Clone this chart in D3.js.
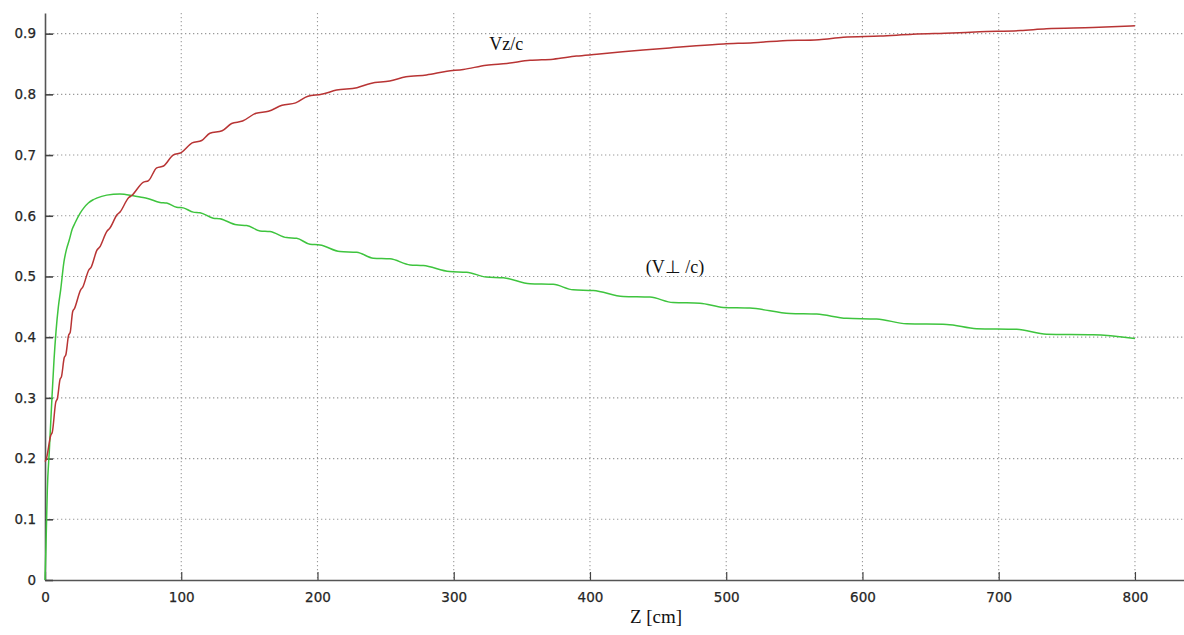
<!DOCTYPE html>
<html>
<head>
<meta charset="utf-8">
<script src="https://cdn.jsdelivr.net/npm/d3@7"></script>
<style>
  html, body { margin: 0; padding: 0; background: #fff; }
  svg { display: block; }
  .tick text { font-family: "DejaVu Sans", sans-serif; font-size: 13.5px; fill: #262626; stroke: #262626; stroke-width: 0.25px; }
  .lbl { font-family: "Liberation Serif", "Times New Roman", serif; fill: #111; }
</style>
</head>
<body>
<svg id="chart" width="1184" height="635"></svg>
<script>
// Longitudinal velocity Vz/c along the drift coordinate Z (cm)
const vzPoints = [
  [0,0.195],[0.8,0.198],
  [4.2,0.238],[5.4,0.244],
  [7.9,0.293],[9.1,0.299],
  [11,0.330],[12.1,0.335],
  [14.1,0.366],[15.3,0.371],
  [17.3,0.403],[18.5,0.408],
  [20.3,0.442],[21.6,0.447],
  [26.2,0.478],[27.6,0.482],
  [32.2,0.511],[33.8,0.515],
  [38.3,0.544],[40,0.548],
  [45.6,0.575],[47.4,0.579],
  [53,0.602],[55,0.606],
  [61.5,0.630],[63.5,0.633],
  [72,0.655],[76,0.658],
  [82,0.679],[87,0.682],
  [94,0.700],[100,0.704],
  [108,0.720],[115,0.724],
  [121,0.736],[130,0.740],
  [137,0.752],[145,0.756],
  [155,0.769],[164,0.772],
  [174,0.782],[184,0.786],
  [193,0.797],[203,0.800],
  [214,0.807],[229,0.811],
  [239,0.818],[253,0.822],
  [265,0.829],[280,0.832],
  [295,0.838],[307,0.841],
  [324,0.848],[339,0.851],
  [356,0.856],[373,0.858],
  [390,0.863],[405,0.866],
  [424,0.870],[439,0.873],
  [461,0.877],[478,0.880],
  [498,0.883],[520,0.885],
  [539,0.888],[568,0.890],
  [586,0.894],[613,0.896],
  [637,0.899],[666,0.901],
  [686,0.903],[716,0.905],
  [735,0.908],[769,0.910],
  [800,0.913]
];

// Transverse velocity V⊥/c along Z (cm)
const vperpPoints = [
  [0,0],[0.7,0.055],[1.7,0.148],[3.2,0.214],[4.9,0.291],[6.6,0.362],
  [8.1,0.410],[9.8,0.450],[11.5,0.478],[13.9,0.524],[15.8,0.545],
  [17.8,0.560],[20,0.578],[22,0.588],[25.7,0.604],[28.5,0.613],
  [31.8,0.621],[35,0.626],[37.9,0.629],[45.3,0.634],[55,0.636],
  [64.8,0.633],[72,0.630],[74.6,0.629],[84.4,0.622],[89.3,0.621],
  [96.6,0.614],[101.5,0.613],[108.8,0.606],[113.8,0.605],
  [123.5,0.596],[128.4,0.595],[140.7,0.585],[148,0.584],
  [157.8,0.575],[165.1,0.574],[177.4,0.564],[184.7,0.563],
  [194.5,0.553],[201.8,0.552],[216.5,0.541],[228.8,0.540],
  [241,0.530],[253.2,0.529],[268,0.519],[277.7,0.518],
  [297,0.508],[309.5,0.507],[324,0.499],[336.4,0.498],
  [356,0.488],[373,0.487],[387.7,0.478],[402.4,0.477],
  [424.4,0.467],[444,0.466],[461,0.457],[480.7,0.456],
  [497.8,0.449],[517.4,0.448],[546.8,0.439],[566.4,0.438],
  [588.4,0.431],[610.4,0.430],[632.4,0.422],[661.8,0.421],
  [683.8,0.414],[713.2,0.413],[735.2,0.405],[769.4,0.404],
  [800,0.398]
];

const xTicks = [0, 100, 200, 300, 400, 500, 600, 700, 800];
const yTicks = [0, 0.1, 0.2, 0.3, 0.4, 0.5, 0.6, 0.7, 0.8, 0.9];

const seriesLabels = [
  { text: "Vz/c", z: 326, v: 0.873 },
  { text: "(V\u22A5 /c)", z: 441, v: 0.505 }
];
const xTitle = "Z [cm]";

const svg = d3.select("#chart");
const W = 1184;
const plotLeft = 45, plotRight = W, plotTop = 13, plotBottom = 580;

const x = d3.scaleLinear().domain([0, 836]).range([plotLeft, plotRight]);
const y = d3.scaleLinear().domain([0, 0.934]).range([plotBottom, plotTop]);

// dotted grid
const grid = svg.append("g").attr("stroke", "#9a9a9a").attr("stroke-width", 1.1)
  .attr("stroke-dasharray", "1.3,2.7");
grid.selectAll("line.gx").data(xTicks.filter(d => d > 0)).join("line")
  .attr("x1", d => x(d)).attr("x2", d => x(d))
  .attr("y1", plotTop).attr("y2", plotBottom);
grid.selectAll("line.gy").data(yTicks.filter(d => d > 0)).join("line")
  .attr("x1", plotLeft).attr("x2", plotRight)
  .attr("y1", d => y(d)).attr("y2", d => y(d));

// axes
const xAxis = d3.axisBottom(x).tickValues(xTicks).tickFormat(d3.format("d"))
  .tickSizeInner(-8).tickSizeOuter(0).tickPadding(12);
const yAxis = d3.axisLeft(y).tickValues(yTicks).tickFormat(d => d === 0 ? "0" : d3.format(".1f")(d))
  .tickSizeInner(-8).tickSizeOuter(0).tickPadding(9);

const gx = svg.append("g").attr("transform", `translate(0,${plotBottom})`).call(xAxis);
const gy = svg.append("g").attr("transform", `translate(${plotLeft},0)`).call(yAxis);
[gx, gy].forEach(g => {
  g.select(".domain").attr("stroke", "#555").attr("stroke-width", 1.6);
  g.selectAll(".tick line").attr("stroke", "#444").attr("stroke-width", 1.6);
});
gx.selectAll(".tick line").attr("stroke-width", 1.2);

// curves through the plateau points
const line = d3.line().x(d => x(d[0])).y(d => y(d[1])).curve(d3.curveMonotoneX);
svg.append("path").datum(vperpPoints)
  .attr("fill", "none").attr("stroke", "#3ec43e").attr("stroke-width", 1.5)
  .attr("d", line);
svg.append("path").datum(vzPoints)
  .attr("fill", "none").attr("stroke", "#b83434").attr("stroke-width", 1.5)
  .attr("d", line);

// labels
svg.selectAll("text.series").data(seriesLabels).join("text")
  .attr("class", "lbl series")
  .attr("x", d => x(d.z)).attr("y", d => y(d.v))
  .attr("font-size", 18)
  .text(d => d.text);

svg.append("text").attr("class", "lbl")
  .attr("x", 656).attr("y", 623).attr("text-anchor", "middle")
  .attr("font-size", 19)
  .text(xTitle);
</script>
</body>
</html>
